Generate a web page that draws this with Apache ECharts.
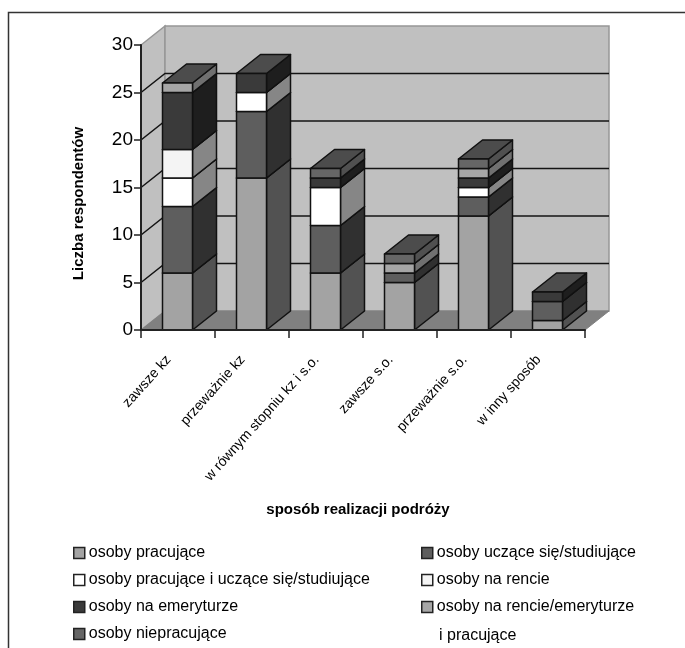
<!DOCTYPE html>
<html><head><meta charset="utf-8">
<style>html,body{margin:0;padding:0;background:#fff}#c{width:685px;height:648px}</style>
<script src="https://cdn.jsdelivr.net/npm/echarts@6/dist/echarts.min.js"></script>
</head><body><div id="c"></div>
<script>
const categories = ['zawsze kz','przeważnie kz','w równym stopniu kz i s.o.','zawsze s.o.','przeważnie s.o.','w inny sposób'];
const pracujace    = [6,16,6,5,12,1];
const uczace       = [7,7,5,1,2,2];
const pracUczace   = [3,2,4,0,1,0];
const naRencie     = [3,0,0,0,0,0];
const naEmeryturze = [6,2,1,0,1,1];
const rencieEmerPrac = [1,0,0,1,1,0];
const niepracujace = [0,0,1,1,1,0];
const yTicks = [5,10,15,20,25];
const seriesNames = ['osoby pracujące','osoby uczące się/studiujące','osoby pracujące i uczące się/studiujące','osoby na rencie','osoby na emeryturze','osoby na rencie/emeryturze i pracujące','osoby niepracujące'];
const seriesValues = [pracujace,uczace,pracUczace,naRencie,naEmeryturze,rencieEmerPrac,niepracujace];

const frontColors = ['#a3a3a3','#5e5e5e','#ffffff','#f4f4f4','#3a3a3a','#a6a6a6','#666666'];
const sideColors  = ['#525252','#303030','#868686','#868686','#1e1e1e','#707070','#505050'];
const topColor = '#4c4c4c';
const DX = 24, DY = 19, BAR_W = 30;
const edge = '#111';

function wallRender(params, api){
  const n = categories.length;
  const band = api.size([1,0])[0];
  const c0 = api.coord([0,0]), c30 = api.coord([0,30]);
  const xL = c0[0]-band/2, xR = api.coord([n-1,0])[0]+band/2;
  const y0 = c0[1], yT = c30[1];
  const ch = [
    {type:'polygon',shape:{points:[[xL,y0],[xL+DX,y0-DY],[xL+DX,yT-DY],[xL,yT]]},style:{fill:'#c0c0c0',stroke:'#969696',lineWidth:1.5}},
    {type:'polygon',shape:{points:[[xL+DX,y0-DY],[xR+DX,y0-DY],[xR+DX,yT-DY],[xL+DX,yT-DY]]},style:{fill:'#c0c0c0',stroke:'#969696',lineWidth:1.5}},
    {type:'polygon',shape:{points:[[xL,y0],[xR,y0],[xR+DX,y0-DY],[xL+DX,y0-DY]]},style:{fill:'#808080',stroke:'#808080',lineWidth:1}}
  ];
  yTicks.forEach(v=>{
    const y = api.coord([0,v])[1];
    ch.push({type:'polyline',shape:{points:[[xL,y],[xL+DX,y-DY],[xR+DX,y-DY]]},style:{fill:'none',stroke:'#141414',lineWidth:1.5}});
  });
  return {type:'group',children:ch};
}
function makeRender(si){
  return function(params, api){
    const cat = api.value(0), lo = api.value(1), hi = api.value(2);
    if(!(hi>lo)) return null;
    const a = api.coord([cat,lo]), b = api.coord([cat,hi]);
    const xl = a[0]-BAR_W/2-0.5, xr = xl+BAR_W, yb = a[1], yt = b[1];
    const st = (fill)=>({fill:fill,stroke:edge,lineWidth:1.5,lineJoin:'round'});
    return {type:'group',children:[
      {type:'polygon',shape:{points:[[xr,yb],[xr+DX,yb-DY],[xr+DX,yt-DY],[xr,yt]]},style:st(sideColors[si])},
      {type:'polygon',shape:{points:[[xl,yt],[xr,yt],[xr+DX,yt-DY],[xl+DX,yt-DY]]},style:st(topColor)},
      {type:'rect',shape:{x:xl,y:yt,width:BAR_W,height:yb-yt},style:st(frontColors[si])}
    ]};
  };
}
const stackBase = categories.map(()=>0);
const barSeries = seriesNames.map((name,si)=>{
  const data = categories.map((c,i)=>{
    const lo = stackBase[i]; stackBase[i]+=seriesValues[si][i];
    return [i,lo,stackBase[i]];
  });
  return {name,type:'custom',renderItem:makeRender(si),data,encode:{x:0,y:[1,2]},
    itemStyle:{color:frontColors[si]},clip:false,silent:true,z:3};
});
const legendCommon = {orient:'vertical',itemWidth:11,itemHeight:11,itemGap:11,icon:'rect',selectedMode:false,padding:0,height:103,
  itemStyle:{borderColor:'#222',borderWidth:1.5},
  textStyle:{fontFamily:'Liberation Sans',fontSize:16,color:'#000',padding:[0,0,0,-1],lineHeight:16}};
const chart = echarts.init(document.getElementById('c'),null,{renderer:'canvas'});
chart.setOption({
  animation:false,backgroundColor:'#fff',
  grid:{left:141,right:100,top:45,bottom:318},
  xAxis:{type:'category',data:categories,z:6,
    axisLine:{lineStyle:{color:'#222',width:2}},
    axisTick:{show:true,alignWithLabel:false,length:8,lineStyle:{color:'#222',width:1.5}},
    axisLabel:{rotate:48,interval:0,margin:17,padding:[0,14,0,0],fontFamily:'Liberation Sans',fontSize:14,color:'#000'},
    name:'sposób realizacji podróży',nameLocation:'middle',nameGap:172,
    nameTextStyle:{fontFamily:'Liberation Sans',fontSize:15,fontWeight:'bold',color:'#000',padding:[0,10,0,0]}},
  yAxis:{type:'value',min:0,max:30,interval:5,z:6,
    axisLine:{show:true,lineStyle:{color:'#222',width:2}},
    axisTick:{show:true,length:7,lineStyle:{color:'#222',width:1.5}},
    splitLine:{show:false},
    axisLabel:{margin:8,fontFamily:'Liberation Sans',fontSize:19,color:'#000'},
    name:'Liczba respondentów',nameLocation:'middle',nameGap:55,nameRotate:90,
    nameTextStyle:{fontFamily:'Liberation Sans',fontSize:15,fontWeight:'bold',color:'#000',padding:[0,32,0,0]}},
  legend:[
    Object.assign({},legendCommon,{left:73,top:545,data:[seriesNames[0],seriesNames[2],seriesNames[4],seriesNames[6]]}),
    Object.assign({},legendCommon,{left:421,top:545,data:[seriesNames[1],seriesNames[3],seriesNames[5]],
      formatter:n=>n.replace(' i pracujące','')})
  ],
  graphic:[
    {type:'text',left:439,top:628,silent:true,style:{text:'i pracujące',fontFamily:'Liberation Sans',fontSize:16,fill:'#000'}},
    {type:'polyline',silent:true,z:0,shape:{points:[[8.5,648],[8.5,12.5],[685,12.5]]},style:{fill:'none',stroke:'#333',lineWidth:1.5}}
  ],
  series:[{type:'custom',name:'_walls',renderItem:wallRender,data:[[0,0,0]],encode:{x:0,y:1},clip:false,silent:true,z:1}].concat(barSeries)
});
</script></body></html>
